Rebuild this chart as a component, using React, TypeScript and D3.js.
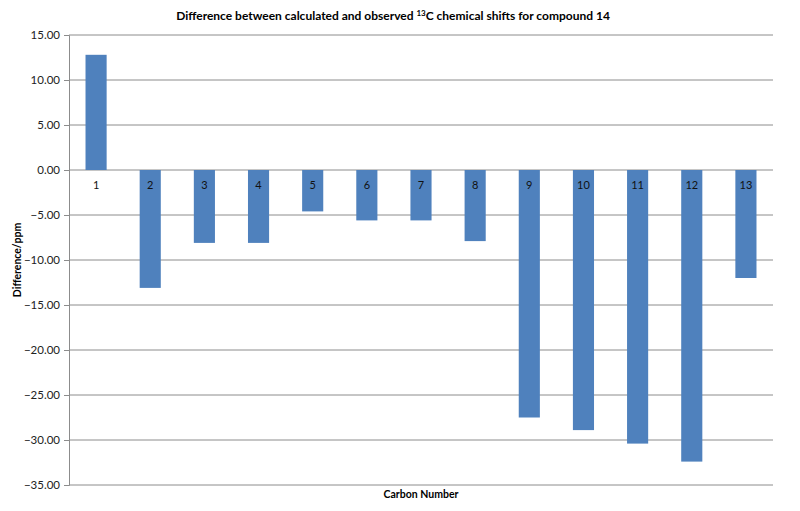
import React, { useEffect, useRef } from 'react';
import * as d3 from 'd3';

const carbons = ['1', '2', '3', '4', '5', '6', '7', '8', '9', '10', '11', '12', '13'];
const differences = [12.8, -13.1, -8.1, -8.1, -4.6, -5.6, -5.6, -7.9, -27.5, -28.9, -30.4, -32.4, -12.0];
const yTicks = [15, 10, 5, 0, -5, -10, -15, -20, -25, -30, -35];

const W = 800;
const H = 511;
const FONT = 'Lato, "Open Sans", sans-serif';

const App: React.FC = () => {
 const svgRef = useRef<SVGSVGElement>(null);

 useEffect(() => {
 if (!svgRef.current) return;
 const svg = d3.select(svgRef.current);
 svg.selectAll('*').remove();

 const left = 69;
 const right = 773;
 const top = 35;
 const bottom = 485;

 const x = d3.scaleBand<string>().domain(carbons).range([left, right]).paddingInner(0.61).paddingOuter(0.305);
 const y = d3.scaleLinear().domain([-35, 15]).range([bottom, top]);

 svg.append('rect').attr('width', W).attr('height', H).attr('fill', '#fff');

 // gridlines
 svg.append('g')
 .selectAll('line')
 .data(yTicks)
 .enter()
 .append('line')
 .attr('x1', left)
 .attr('x2', right)
 .attr('y1', (d) => y(d))
 .attr('y2', (d) => y(d))
 .attr('stroke', '#8c8c8c')
 .attr('stroke-width', 1);

 // y axis
 const yAxis = d3.axisLeft(y).tickValues(yTicks).tickSize(5).tickPadding(4).tickFormat((d) => d3.format('.2f')(d as number));
 const ya = svg.append('g').attr('transform', `translate(${left},0)`).call(yAxis);
 ya.select('.domain').attr('stroke', '#8c8c8c');
 ya.selectAll('.tick line').attr('stroke', '#8c8c8c');
 ya.selectAll('.tick text').attr('font-family', FONT).attr('font-size', 11.5).attr('fill', '#222');

 // bars
 svg.append('g')
 .selectAll('rect')
 .data(differences)
 .enter()
 .append('rect')
 .attr('x', (_d, i) => x(carbons[i]) as number)
 .attr('width', x.bandwidth())
 .attr('y', (d) => y(Math.max(0, d)))
 .attr('height', (d) => Math.abs(y(d) - y(0)))
 .attr('fill', '#4f81bd');

 // category labels sit just below the zero line
 svg.append('g')
 .selectAll('text')
 .data(carbons)
 .enter()
 .append('text')
 .attr('x', (d) => (x(d) as number) + x.bandwidth() / 2)
 .attr('y', y(0) + 19)
 .attr('text-anchor', 'middle')
 .attr('font-family', FONT)
 .attr('font-size', 11)
 .attr('fill', '#111')
 .text((d) => d);

 // title
 const title = svg.append('text')
 .attr('x', 393)
 .attr('y', 20)
 .attr('text-anchor', 'middle')
 .attr('font-family', FONT)
 .attr('font-size', 12)
 .attr('font-weight', 'bold')
 .attr('fill', '#000');
 title.append('tspan').text('Difference between calculated and observed ');
 title.append('tspan').attr('font-size', 8).attr('dy', -4).text('13');
 title.append('tspan').attr('dy', 4).text('C chemical shifts for compound 14');

 svg.append('text')
 .attr('transform', `translate(21,${(top + bottom) / 2}) rotate(-90)`)
 .attr('text-anchor', 'middle')
 .attr('font-family', FONT)
 .attr('font-size', 10.5)
 .attr('font-weight', 'bold')
 .attr('fill', '#000')
 .text('Difference/ppm');

 svg.append('text')
 .attr('x', (left + right) / 2)
 .attr('y', 498)
 .attr('text-anchor', 'middle')
 .attr('font-family', FONT)
 .attr('font-size', 10.5)
 .attr('font-weight', 'bold')
 .attr('fill', '#000')
 .text('Carbon Number');
 }, []);

 return <svg ref={svgRef} width={W} height={H} style={{ position: 'absolute', left: 0, top: 0 }} />;
};

export default App;
